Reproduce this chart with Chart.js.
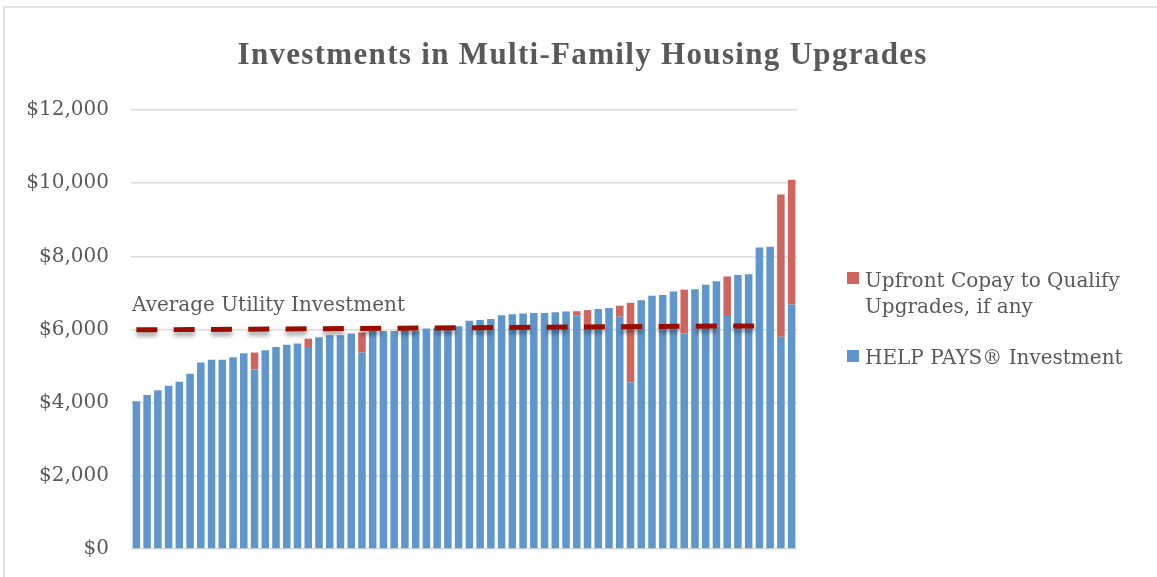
<!DOCTYPE html>
<html>
<head>
<meta charset="utf-8">
<script src="https://cdn.jsdelivr.net/npm/chart.js@4.4.0/dist/chart.umd.min.js"></script>
<style>
  html, body { margin: 0; padding: 0; background: #fff; }
  #wrap { position: relative; width: 1157px; height: 577px; overflow: hidden; }
  #frame { position: absolute; left: 3px; top: 6px; width: 1200px; height: 600px; border: 2px solid #e3e3e3; box-sizing: border-box; }
  canvas { position: absolute; left: 0; top: 0; }
</style>
</head>
<body>
<div id="wrap">
  <div id="frame"></div>
  <canvas id="chart" width="1157" height="577"></canvas>
</div>
<script>
var TITLE = 'Investments in Multi-Family Housing Upgrades'
var AVG_LABEL = 'Average Utility Investment'

// one entry per project, sorted by total cost
var projects = []
for (var i = 1; i <= 62; i++) projects.push('P' + i)

var helpPays = [
  4040, 4210, 4340, 4460, 4570, 4790, 5100, 5170, 5170, 5240,
  5350, 4910, 5430, 5520, 5580, 5620, 5520, 5790, 5840, 5840,
  5890, 5370, 5960, 5960, 5960, 5930, 5960, 6030, 6050, 6070,
  6090, 6240, 6260, 6290, 6390, 6420, 6440, 6450, 6450, 6470,
  6490, 6390, 6050, 6560, 6590, 6350, 4560, 6800, 6920, 6940,
  7040, 5900, 7100, 7220, 7320, 6370, 7490, 7510, 8240, 8260,
  5800, 6680
]

var copay = [
  null, null, null, null, null, null, null, null, null, null,
  null, 460, null, null, null, null, 230, null, null, null,
  null, 545, null, null, null, 60, null, null, null, null,
  null, null, null, null, null, null, null, null, null, null,
  null, 110, 480, null, null, 300, 2170, null, null, null,
  null, 1190, null, null, null, 1080, null, null, null, null,
  3890, 3410
]

// average line: read at its two ends only
var avgLine = projects.map(function () { return null })
avgLine[0] = 5990
avgLine[58] = 6100

var yTicks = [0, 2000, 4000, 6000, 8000, 10000, 12000]

var BLUE = '#5f96cb'
var RED = '#cf655e'
var DARKRED = '#9a0e00'
var TEXT = '#595959'
var SERIF = '"DejaVu Serif", serif'

// shadow under the dashed average line
var shadowPlugin = {
  id: 'avgShadow',
  beforeDatasetDraw(chart, args) {
    if (args.index !== 0) return
    var ctx = chart.ctx
    ctx.save()
    ctx.shadowColor = 'rgba(0,0,0,0.35)'
    ctx.shadowBlur = 4
    ctx.shadowOffsetY = 4
  },
  afterDatasetDraw(chart, args) {
    if (args.index !== 0) return
    chart.ctx.restore()
  }
}

// title, text label above the line, legend on the right
var textPlugin = {
  id: 'extraText',
  afterDraw(chart) {
    var ctx = chart.ctx
    ctx.save()
    ctx.fillStyle = TEXT
    ctx.textBaseline = 'alphabetic'

    // title, stretched a little to the original width
    ctx.font = 'bold 31px "Liberation Serif", serif'
    var w = ctx.measureText(TITLE).width
    var target = 689
    if ('letterSpacing' in ctx) {
      ctx.letterSpacing = ((target - w) / (TITLE.length - 1)).toFixed(2) + 'px'
    }
    ctx.textAlign = 'left'
    ctx.fillText(TITLE, 582 - target / 2, 64)
    if ('letterSpacing' in ctx) ctx.letterSpacing = '0px'

    ctx.font = '20px ' + SERIF
    ctx.fillText(AVG_LABEL, 132, 311)

    // legend
    var ds = chart.data.datasets
    ctx.fillStyle = ds[2].backgroundColor
    ctx.fillRect(847, 272, 12, 12)
    ctx.fillStyle = TEXT
    ctx.fillText('Upfront Copay to Qualify', 865, 287)
    ctx.fillText('Upgrades, if any', 865, 313)
    ctx.fillStyle = ds[1].backgroundColor
    ctx.fillRect(847, 350, 12, 12)
    ctx.fillStyle = TEXT
    ctx.fillText(ds[1].label, 865, 364)
    ctx.restore()
  }
}

new Chart(document.getElementById('chart'), {
  type: 'bar',
  data: {
    labels: projects,
    datasets: [{
      type: 'line',
      label: AVG_LABEL,
      data: avgLine,
      spanGaps: true,
      borderColor: DARKRED,
      borderWidth: 5,
      borderDash: [21, 16.3],
      borderCapStyle: 'butt',
      pointRadius: 0,
      fill: false,
      order: 0
    }, {
      label: 'HELP PAYS® Investment',
      data: helpPays,
      backgroundColor: BLUE,
      stack: 's',
      order: 1
    }, {
      label: 'Upfront Copay to Qualify Upgrades, if any',
      data: copay,
      backgroundColor: RED,
      stack: 's',
      order: 1
    }]
  },
  options: {
    responsive: false,
    maintainAspectRatio: false,
    animation: false,
    events: [],
    layout: {
      padding: { top: 110, right: 360, bottom: 28, left: 0 }
    },
    datasets: {
      bar: { categoryPercentage: 1, barPercentage: 0.7 }
    },
    plugins: {
      legend: { display: false },
      tooltip: { enabled: false },
      title: { display: false }
    },
    scales: {
      x: {
        display: false,
        stacked: true
      },
      y: {
        stacked: true,
        min: 0,
        max: 12000,
        afterFit(scale) { scale.width = 131 },
        afterBuildTicks(scale) {
          scale.ticks = yTicks.map(function (v) { return { value: v } })
        },
        border: { display: false },
        // invisible tick marks keep the labels clear of the plot
        grid: { color: '#dcdcdc', lineWidth: 1.5, drawTicks: true, tickLength: 22, tickColor: 'rgba(0,0,0,0)' },
        ticks: {
          padding: 0,
          color: TEXT,
          font: { family: SERIF, size: 20 },
          callback: function (v) { return '$' + v.toLocaleString('en-US') }
        }
      }
    }
  },
  plugins: [shadowPlugin, textPlugin]
})
</script>
</body>
</html>
